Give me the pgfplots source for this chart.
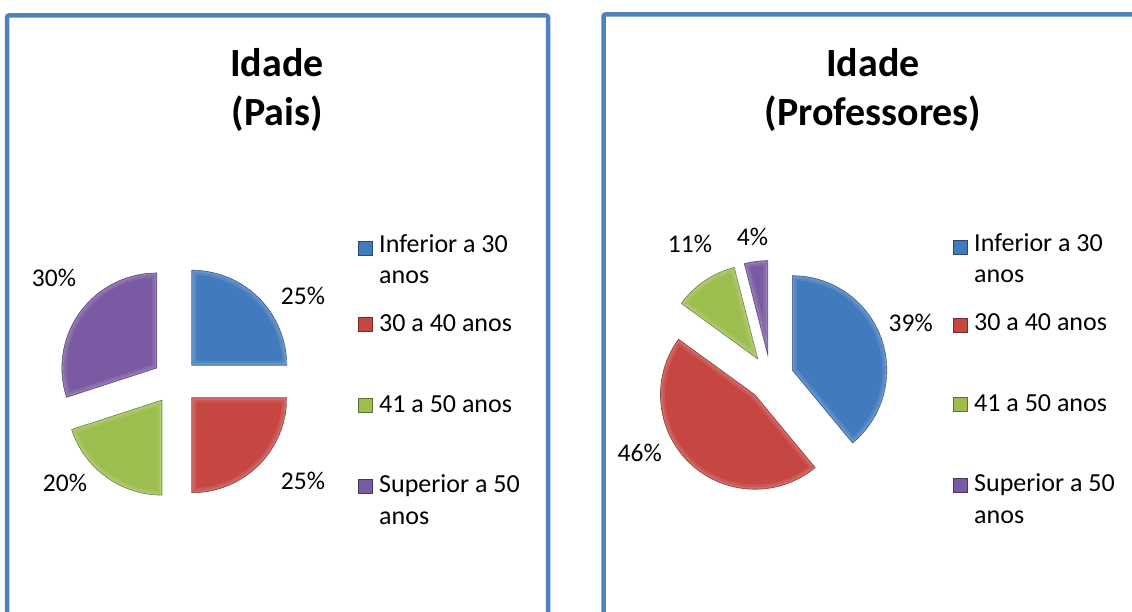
\documentclass[border=0pt]{standalone}
\usepackage{pgfplots}
\pgfplotsset{compat=1.18}
\usepackage{fontspec}
\setmainfont{Carlito}
\definecolor{frameC}{RGB}{79,129,189}
\definecolor{blueS}{RGB}{66,122,190}
\definecolor{redS}{RGB}{198,70,66}
\definecolor{greenS}{RGB}{155,190,78}
\definecolor{purpleS}{RGB}{122,90,162}
\newcommand{\ttl}{\fontsize{40}{48}\selectfont\bfseries}
\newcommand{\lbl}{\fontsize{25.5}{31}\selectfont}
\newcommand{\lgd}{\fontsize{26}{31}\selectfont}
% slice: cx, cy, radius, start %, end % (cumulative), colour
\newcommand{\slicepath}[5]{(axis cs:#1,#2) ++({90-1.8*(#4+#5)}:23pt) -- ++({90-3.6*#4}:#3pt) arc[start angle={90-3.6*#4}, end angle={90-3.6*#5}, radius=#3pt] -- cycle}
\newcommand{\slice}[6]{\pgfplotsextra{%
  \begin{scope}
    \clip \slicepath{#1}{#2}{#3}{#4}{#5};
    \fill[#6] \slicepath{#1}{#2}{#3}{#4}{#5};
    \draw[white, opacity=0.10, line width=9pt] \slicepath{#1}{#2}{#3}{#4}{#5};
    \draw[white, opacity=0.12, line width=4pt] \slicepath{#1}{#2}{#3}{#4}{#5};
  \end{scope}
  \draw[#6!55!black, opacity=0.8, line width=0.6pt] \slicepath{#1}{#2}{#3}{#4}{#5};}}
\newcommand{\lsq}[3]{\fill[#3, draw=#3!60!black, line width=0.6pt] (axis cs:#1-7,#2-7) rectangle (axis cs:#1+7,#2+7);}
\begin{document}
\begin{tikzpicture}
\useasboundingbox (0,0) rectangle (1132pt,612pt);
\clip (0,0) rectangle (1132pt,612pt);
\begin{axis}[x=1pt, y=1pt, xmin=0, xmax=1132, ymin=0, ymax=612,
  hide axis, clip=false, at={(0,0)}, anchor=origin, scale only axis]
% frames
\draw[frameC, line width=4.5pt, rounded corners=2pt] (axis cs:7,-20) -- (axis cs:7,596.5) -- (axis cs:548,596.5) -- (axis cs:548,-20);
\draw[frameC, line width=4.5pt, rounded corners=2pt] (axis cs:603.5,-20) -- (axis cs:603.5,597.5) -- (axis cs:1150,597.5);
% ---------- Pais: 25, 25, 20, 30 ----------
\node[anchor=base, font=\ttl] at (axis cs:277,535.3) {Idade};
\node[anchor=base, font=\ttl] at (axis cs:277,486) {(Pais)};
\slice{175.5}{230.5}{95}{0}{25}{blueS}
\slice{175.5}{230.5}{95}{25}{50}{redS}
\slice{175.5}{230.5}{95}{50}{70}{greenS}
\slice{175.5}{230.5}{95}{70}{100}{purpleS}
\node[anchor=base, font=\lbl] at (axis cs:303,307) {25\%};
\node[anchor=base, font=\lbl] at (axis cs:303,122) {25\%};
\node[anchor=base, font=\lbl] at (axis cs:65,120) {20\%};
\node[anchor=base, font=\lbl] at (axis cs:54,325) {30\%};
\lsq{365}{363.5}{blueS}
\lsq{365}{287.5}{redS}
\lsq{365}{207}{greenS}
\lsq{365}{126}{purpleS}
\node[anchor=base west, inner sep=0, font=\lgd] at (axis cs:379,359.3) {Inferior a 30};
\node[anchor=base west, inner sep=0, font=\lgd] at (axis cs:379,328.7) {anos};
\node[anchor=base west, inner sep=0, font=\lgd] at (axis cs:379,280.3) {30 a 40 anos};
\node[anchor=base west, inner sep=0, font=\lgd] at (axis cs:379,199) {41 a 50 anos};
\node[anchor=base west, inner sep=0, font=\lgd] at (axis cs:379,119) {Superior a 50};
\node[anchor=base west, inner sep=0, font=\lgd] at (axis cs:379,87) {anos};
% ---------- Professores: 39, 46, 11, 4 ----------
\node[anchor=base, font=\ttl] at (axis cs:873,535.3) {Idade};
\node[anchor=base, font=\ttl] at (axis cs:873,486) {(Professores)};
\slice{770.7}{234}{94.5}{0}{39}{blueS}
\slice{770.7}{234}{94.5}{39}{85}{redS}
\slice{770.7}{234}{94.5}{85}{96}{greenS}
\slice{770.7}{234}{94.5}{96}{100}{purpleS}
\node[anchor=base, font=\lbl] at (axis cs:910.7,280.3) {39\%};
\node[anchor=base, font=\lbl] at (axis cs:639.7,150.3) {46\%};
\node[anchor=base, font=\lbl] at (axis cs:690,359) {11\%};
\node[anchor=base, font=\lbl] at (axis cs:752.5,366) {4\%};
\lsq{960}{365}{blueS}
\lsq{960}{287}{redS}
\lsq{960}{208}{greenS}
\lsq{960}{127}{purpleS}
\node[anchor=base west, inner sep=0, font=\lgd] at (axis cs:974,360) {Inferior a 30};
\node[anchor=base west, inner sep=0, font=\lgd] at (axis cs:974,329.4) {anos};
\node[anchor=base west, inner sep=0, font=\lgd] at (axis cs:974,281) {30 a 40 anos};
\node[anchor=base west, inner sep=0, font=\lgd] at (axis cs:974,200) {41 a 50 anos};
\node[anchor=base west, inner sep=0, font=\lgd] at (axis cs:974,120) {Superior a 50};
\node[anchor=base west, inner sep=0, font=\lgd] at (axis cs:974,88) {anos};
\end{axis}
\end{tikzpicture}
\end{document}
